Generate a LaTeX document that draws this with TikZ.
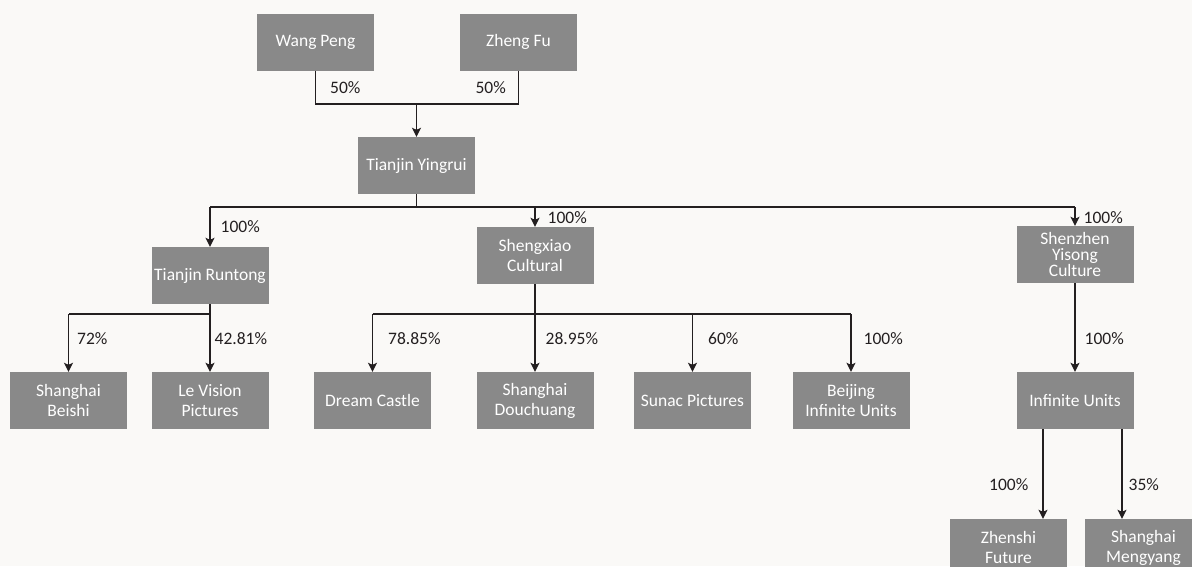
\documentclass[tikz,border=0pt]{standalone}
\usepackage{fontspec}
\setmainfont{Carlito}
\usetikzlibrary{arrows.meta,positioning}

\definecolor{boxgray}{RGB}{137,137,137}
\definecolor{linedark}{RGB}{35,31,32}
\definecolor{paper}{RGB}{250,249,247}

\begin{document}
\begin{tikzpicture}[x=1pt,y=-1pt,>={Stealth[length=9pt,width=9pt,inset=2pt]},
    firm/.style={fill=boxgray,text=white,minimum width=117pt,minimum height=57pt,
      inner sep=2pt,align=center,font=\fontsize{17.5}{20}\selectfont},
    share/.style={text=linedark,inner sep=0pt,font=\fontsize{17.5}{18}\selectfont},
    link/.style={draw=linedark,line width=1.3pt}]
      \fill[paper] (0,0) rectangle (1192,566);
      \useasboundingbox (0,0) rectangle (1192,566);

      \node[firm] (wang) at (315.5,42) {Wang Peng};
      \node[firm] (zheng) at (518.5,42) {Zheng Fu};
      \node[firm] (yingrui) at (416.5,165.5) {Tianjin Yingrui};

      \node[firm] (runtong) at (210,275.5) {Tianjin Runtong};
      \node[firm] (shengxiao) at (535,255.5) {Shengxiao\\Cultural};
      \node[firm,font=\fontsize{17.5}{16}\selectfont] (shenzhen) at (1075,254.5) {Shenzhen\\Yisong\\Culture};

      \node[firm] (beishi) at (68.5,400.5) {Shanghai\\Beishi};
      \node[firm] (levision) at (210,400.5) {Le Vision\\Pictures};
      \node[firm] (dream) at (372.5,400.5) {Dream Castle};
      \node[firm] (douchuang) at (535,400.5) {Shanghai\\Douchuang};
      \node[firm] (sunac) at (692.5,400.5) {Sunac Pictures};
      \node[firm] (beijing) at (851,400.5) {Beijing\\Infinite Units};
      \node[firm] (infinite) at (1075,400.5) {Infinite Units};

      \node[firm] (zhenshi) at (1008.5,547.5) {Zhenshi\\Future};
      \node[firm] (mengyang) at (1143.5,547.5) {Shanghai\\Mengyang};

      \coordinate (owners) at (416.5,104);
      \coordinate (bus) at (416.5,207);
      \coordinate (rsplit) at (210,314);
      \coordinate (ssplit) at (535,314);

      % owners
      \draw[link] (wang) |- node[share,pos=0.25,right=14pt] {50\%} (owners)
        -| node[share,pos=0.75,left=12pt] {50\%} (zheng);
      \draw[link,->] (owners) -- (yingrui);

      % first level
      \draw[link] (yingrui) -- (bus);
      \draw[link] (bus -| runtong) -- (bus -| shenzhen);
      \draw[link,->] (bus -| runtong) -- node[share,right=10pt] {100\%} (runtong);
      \draw[link,->] (bus -| shengxiao) -- node[share,right=12pt,yshift=-1pt] {100\%} (shengxiao);
      \draw[link,->] (bus -| shenzhen) -- node[share,right=8pt,yshift=-1pt] {100\%} (shenzhen);

      % Tianjin Runtong
      \draw[link] (runtong) -- (rsplit) -- (rsplit -| beishi);
      \draw[link,->] (rsplit -| beishi) -- node[share,pos=0.42,right=8pt] {72\%} (beishi);
      \draw[link,->] (rsplit) -- node[share,pos=0.42,right=4pt] {42.81\%} (levision);

      % Shengxiao Cultural
      \draw[link] (shengxiao) -- (ssplit);
      \draw[link] (ssplit -| dream) -- (ssplit -| beijing);
      \draw[link,->] (ssplit -| dream) -- node[share,pos=0.42,right=15pt] {78.85\%} (dream);
      \draw[link,->] (ssplit) -- node[share,pos=0.42,right=10pt] {28.95\%} (douchuang);
      \draw[link,->] (ssplit -| sunac) -- node[share,pos=0.42,right=15pt] {60\%} (sunac);
      \draw[link,->] (ssplit -| beijing) -- node[share,pos=0.42,right=12pt] {100\%} (beijing);

      % Shenzhen Yisong
      \draw[link,->] (shenzhen) -- node[share,pos=0.62,right=9pt] {100\%} (infinite);
      \draw[link,->] ([xshift=-32pt]infinite.south) -- node[share,pos=0.62,left=14pt] {100\%}
        ([xshift=-32pt]infinite.south |- zhenshi.north);
      \draw[link,->] ([xshift=47pt]infinite.south) -- node[share,pos=0.62,right=6pt] {35\%}
        ([xshift=47pt]infinite.south |- mengyang.north);
    \end{tikzpicture}
\end{document}
